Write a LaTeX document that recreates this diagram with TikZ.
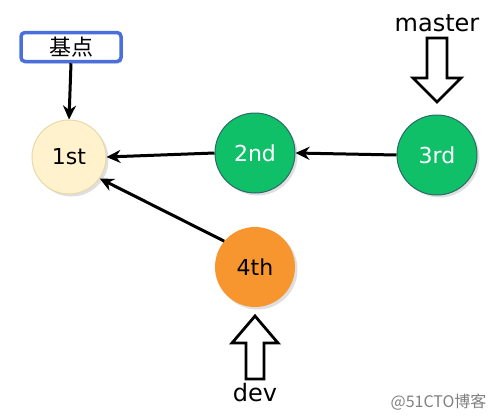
\documentclass[tikz,border=0pt]{standalone}
\usepackage{fontspec}
\setmainfont{DejaVu Sans}
\newfontfamily\cjk{Noto Sans CJK SC}
\usetikzlibrary{arrows.meta,shadows}
\definecolor{cream}{HTML}{FFF2CC}
\definecolor{creamline}{HTML}{E8D9A8}
\definecolor{gitgreen}{HTML}{10C068}
\definecolor{greenline}{HTML}{2A6A6A}
\definecolor{gitorange}{HTML}{F7962F}
\definecolor{boxblue}{HTML}{4A6FDC}
\tikzset{
  commit/.style={circle, minimum size=80pt, inner sep=0pt, font=\fontsize{22}{24}\selectfont,
    drop shadow={shadow xshift=2.5pt, shadow yshift=-2.5pt, fill=black!25}},
  conn/.style={-{Stealth[length=14pt,width=13pt]}, line width=3pt},
  hollow/.style={draw=black, line width=2.8pt, fill=white, line join=miter},
  label/.style={font=\fontsize{24}{26}\selectfont},
}
\begin{document}
\begin{tikzpicture}[x=1pt,y=-1pt]
\useasboundingbox (0,0) rectangle (493,418);
\node[commit, fill=cream, draw=creamline, line width=1pt, minimum size=74pt] (c1) at (69,157) {1st};
\node[commit, fill=gitgreen, draw=greenline, line width=1pt, text=white] (c2) at (255,153) {2nd};
\node[commit, fill=gitgreen, draw=greenline, line width=1pt, text=white] (c3) at (437,155) {3rd};
\node[commit, fill=gitorange, draw=none] (c4) at (255,267) {4th};
\node[draw=boxblue, line width=3.5pt, rounded corners=4pt, fill=white, minimum width=100pt, minimum height=29pt, inner sep=0pt,
  font=\cjk\fontsize{22}{24}\selectfont, drop shadow={shadow xshift=2pt, shadow yshift=-2pt, fill=black!20}] (base) at (71,47) {基点};
\node[label] (master) at (437,23) {master};
\node[label] (dev) at (255,393) {dev};
\node[font=\cjk\fontsize{16}{18}\selectfont, text=black!50, anchor=east] (wm) at (490,402) {@51CTO博客};
\draw[conn] (base.south) -- (c1.north);
\draw[conn] (c3.west) -- (c2.east);
\draw[conn] (c2.west) -- (c1.east);
\draw[conn] (c4.140) -- (c1.-35);
% hollow arrows
\coordinate (mtop) at (437,38);
\coordinate (dbot) at (255,379);
\draw[hollow] (mtop) ++(-10,0) -- ++(0,40) -- ++(-14,0) -- (437,102) -- (461,78) -- ++(-14,0) -- ++(0,-40) -- cycle;
\draw[hollow] (dbot) ++(-9,0) -- ++(0,-36) -- ++(-14,0) -- (255,316) -- (278,343) -- ++(-14,0) -- ++(0,36) -- cycle;
\end{tikzpicture}
\end{document}
